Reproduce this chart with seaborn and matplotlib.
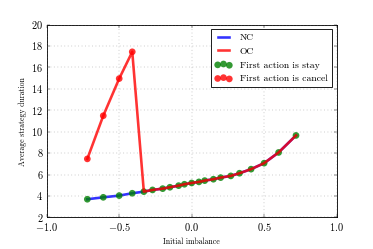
import seaborn as sns
import pandas as pd
import matplotlib.pyplot as plt

# data
imbalance = [-0.72, -0.61, -0.5, -0.41, -0.33, -0.27, -0.2, -0.15, -0.09, -0.05, 0.0,
             0.05, 0.09, 0.15, 0.2, 0.27, 0.33, 0.41, 0.5, 0.6, 0.72]
nc_duration = [3.69, 3.87, 4.03, 4.25, 4.40, 4.56, 4.68, 4.81, 4.96, 5.09, 5.21,
               5.31, 5.43, 5.56, 5.71, 5.87, 6.12, 6.50, 7.06, 8.06, 9.65]
oc_duration = [7.46, 11.49, 14.96, 17.46, 4.40, 4.56, 4.68, 4.81, 4.96, 5.09, 5.21,
               5.31, 5.43, 5.56, 5.71, 5.87, 6.12, 6.50, 7.06, 8.06, 9.65]
oc_first_action = ['cancel'] * 4 + ['stay'] * 17

df = pd.DataFrame({'imbalance': imbalance, 'nc': nc_duration, 'oc': oc_duration,
                   'first': oc_first_action})
cancel = df[df['first'] == 'cancel']

#classic look
plt.style.use('classic')
plt.rcParams['font.family'] = 'serif'
plt.rcParams['font.serif'] = ['cmr10']
plt.rcParams['mathtext.fontset'] = 'cm'
plt.rcParams['axes.formatter.use_mathtext'] = True
plt.rcParams['axes.unicode_minus'] = True

fig, ax = plt.subplots(figsize=(6, 4), dpi=62.33)
fig.subplots_adjust(left=0.125, right=0.9, top=0.9, bottom=0.127)

sns.lineplot(data=df, x='imbalance', y='nc', ax=ax, color='blue', alpha=0.8, lw=3, label='NC')
sns.scatterplot(data=df, x='imbalance', y='nc', ax=ax, color='green', alpha=0.8, s=60,
                edgecolor='none', label='First action is stay', zorder=3)
sns.lineplot(data=df, x='imbalance', y='oc', ax=ax, color='red', alpha=0.8, lw=3, label='OC',
             zorder=4)
sns.scatterplot(data=cancel, x='imbalance', y='oc', ax=ax, color='red', alpha=0.8, s=60,
                edgecolor='none', label='First action is cancel', zorder=5)

ax.set_xlim(-1, 1)
ax.set_ylim(2, 20)
ax.set_xticks([-1.0, -0.5, 0.0, 0.5, 1.0])
ax.set_yticks(range(2, 21, 2))
ax.grid(True, linestyle=':', color='gray')
ax.set_xlabel('Initial imbalance', fontsize=9)
ax.set_ylabel('Average strategy duration', fontsize=9)

handles, labels = ax.get_legend_handles_labels()
order = [labels.index(l) for l in ['NC', 'OC', 'First action is stay', 'First action is cancel']]
ax.legend([handles[i] for i in order], [labels[i] for i in order], loc='upper right',
          fontsize=11.2, scatterpoints=3, handlelength=1.8)

fig.savefig('out.png', dpi=62.33)
